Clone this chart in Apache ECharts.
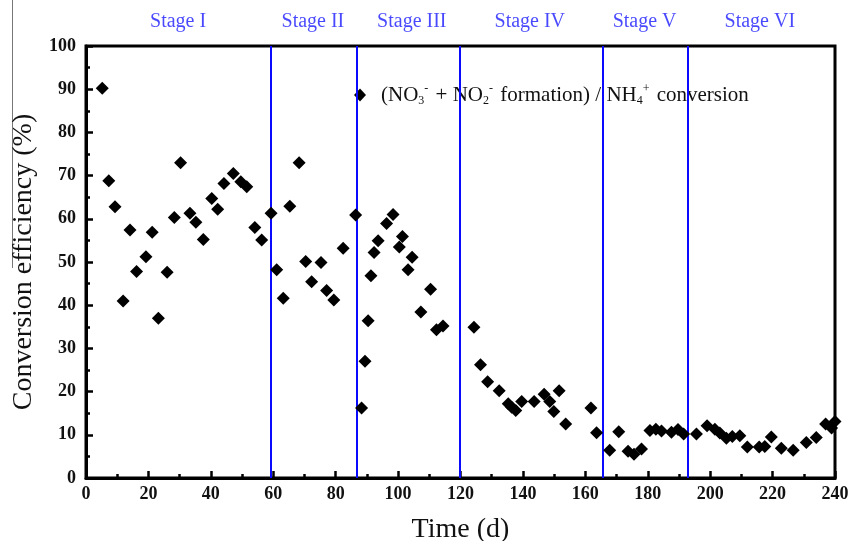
<!DOCTYPE html>
<html>
<head>
<meta charset="utf-8">
<script src="https://cdn.jsdelivr.net/npm/echarts@6/dist/echarts.min.js"></script>
<style>
html,body{margin:0;padding:0;background:#fff;}
#chart{width:853px;height:541px;}
</style>
</head>
<body>
<div id="chart"></div>
<script>
const seriesName = '(NO3- + NO2- formation) / NH4+ conversion';
const timeDays = [5.2,7.3,9.3,11.9,14.1,16.2,19.2,21.2,23.2,26.0,28.3,30.3,33.3,35.2,37.6,40.3,42.2,44.2,47.2,49.6,51.5,54.1,56.3,59.3,61.1,63.2,65.3,68.3,70.4,72.3,75.3,77.1,79.4,82.4,86.4,
  88.3,89.4,90.4,91.3,92.3,93.6,96.3,98.4,100.4,101.4,103.2,104.5,107.3,110.4,112.3,114.4,
  124.3,126.4,128.7,132.4,135.3,136.4,137.7,139.6,143.6,146.8,148.6,149.9,151.6,153.7,161.8,163.6,
  167.8,170.7,173.7,175.6,178.0,180.7,182.6,184.4,187.6,189.7,191.5,
  195.6,199.0,201.5,203.1,205.2,207.1,209.5,211.9,215.7,217.5,219.6,222.8,226.6,230.8,234.0,237.0,238.9,240.0];
const efficiency = [90.2,68.8,62.8,41.0,57.4,47.8,51.2,56.9,37.0,47.6,60.3,73.0,61.3,59.2,55.2,64.7,62.2,68.2,70.5,68.6,67.4,58.0,55.1,61.3,48.2,41.6,62.9,73.0,50.1,45.4,49.9,43.4,41.2,53.2,60.9,
  16.2,27.0,36.4,46.8,52.2,54.9,58.9,61.0,53.5,55.9,48.2,51.1,38.4,43.7,34.3,35.2,
  34.9,26.2,22.3,20.2,17.2,16.4,15.6,17.7,17.7,19.4,17.7,15.4,20.2,12.5,16.2,10.5,
  6.4,10.7,6.2,5.5,6.7,11.0,11.3,10.9,10.6,11.2,10.2,
  10.2,12.1,11.3,10.4,9.2,9.6,9.8,7.2,7.2,7.3,9.5,6.9,6.4,8.2,9.4,12.5,11.6,13.1];
const stageBoundaries = [59.2, 86.7, 119.6, 165.5, 192.9];
const stageNames = ['Stage I','Stage II','Stage III','Stage IV','Stage V','Stage VI'];
const stageCenters = [29.5, 72.7, 104.4, 142.2, 179.0, 215.9];

const FONT = '"Liberation Serif", "DejaVu Serif", serif';
const points = timeDays.map((t, i) => [t, efficiency[i]]);
const stageLabelData = stageNames.map((n, i) => ({ name: n, value: [stageCenters[i], 100] }));

const chart = echarts.init(document.getElementById('chart'), null, { renderer: 'canvas' });
chart.setOption({
  animation: false,
  backgroundColor: '#ffffff',
  grid: { left: 86, right: 18, top: 46, bottom: 63, containLabel: false, outerBoundsMode: 'none', show: true, borderColor: '#000', borderWidth: 3, backgroundColor: 'transparent' },
  legend: {
    data: [seriesName],
    left: 349, top: 78,
    icon: 'diamond', itemWidth: 12, itemHeight: 13,
    formatter: function () {
      return '{g|}(NO{sub|3}{sup|-} + NO{sub|2}{sup|-} formation) / NH{sub|4}{sup|+} conversion';
    },
    textStyle: {
      fontFamily: FONT, fontSize: 21, color: '#111', lineHeight: 24,
      rich: {
        g: { width: 10 },
        sub: { fontFamily: FONT, fontSize: 12, lineHeight: 12, verticalAlign: 'bottom', padding: [12, 0, 0, 0] },
        sup: { fontFamily: FONT, fontSize: 12, lineHeight: 12, verticalAlign: 'top', padding: [0, 2, 8, 0] }
      }
    }
  },
  xAxis: {
    type: 'value', min: 0, max: 240, interval: 20,
    name: 'Time (d)', nameLocation: 'middle', nameGap: 38,
    nameTextStyle: { fontFamily: FONT, fontSize: 28, color: '#111' },
    axisLine: { show: true, onZero: false, lineStyle: { color: '#000', width: 3 } },
    axisTick: { show: true, inside: true, length: 7, lineStyle: { color: '#000', width: 2.5 } },
    minorTick: { show: true, splitNumber: 2, length: 4, lineStyle: { color: '#000', width: 2.5 } },
    axisLabel: { fontFamily: FONT, fontSize: 18, fontWeight: 'bold', color: '#111', margin: 7 },
    splitLine: { show: false }
  },
  yAxis: {
    type: 'value', min: 0, max: 100, interval: 10,
    name: 'Conversion efficiency (%)', nameLocation: 'middle', nameGap: 48, nameRotate: 90,
    nameTextStyle: { fontFamily: FONT, fontSize: 28, color: '#111' },
    axisLine: { show: true, onZero: false, lineStyle: { color: '#000', width: 3 } },
    axisTick: { show: true, inside: true, length: 7, lineStyle: { color: '#000', width: 2.5 } },
    minorTick: { show: true, splitNumber: 2, length: 4, lineStyle: { color: '#000', width: 2.5 } },
    axisLabel: { fontFamily: FONT, fontSize: 18, fontWeight: 'bold', color: '#111', margin: 10 },
    splitLine: { show: false }
  },
  series: [
    {
      name: seriesName,
      type: 'scatter',
      symbol: 'diamond',
      symbolSize: [13, 13],
      itemStyle: { color: '#000', opacity: 1 },
      data: points,
      z: 5,
      markLine: {
        silent: true,
        symbol: ['none', 'none'],
        label: { show: false },
        lineStyle: { color: '#0a0aff', width: 2, type: 'solid' },
        data: stageBoundaries.map(v => ({ xAxis: v }))
      }
    },
    {
      name: 'stages',
      type: 'scatter',
      symbolSize: 1,
      clip: false,
      itemStyle: { color: 'rgba(0,0,0,0)' },
      label: {
        show: true, position: 'top', distance: 14,
        formatter: p => p.name,
        fontFamily: FONT, fontSize: 20, color: '#1a1aff'
      },
      data: stageLabelData,
      silent: true
    }
  ],
  graphic: [
    { type: 'line', shape: { x1: 12.5, y1: 0, x2: 12.5, y2: 268 }, style: { stroke: '#777', lineWidth: 1 } }
  ]
});
</script>
</body>
</html>
